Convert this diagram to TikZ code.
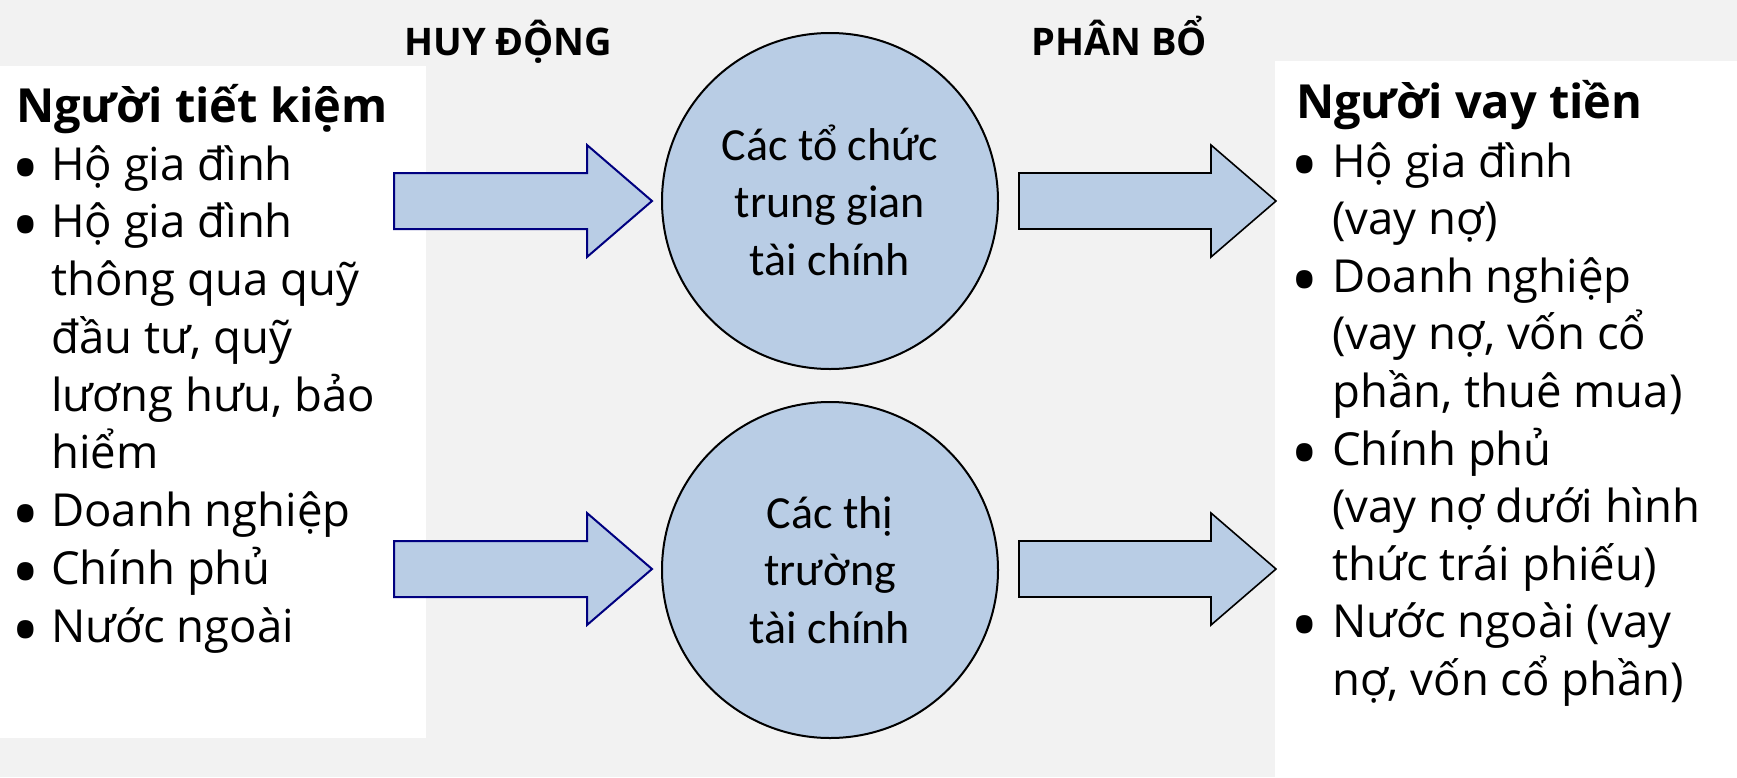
\documentclass[tikz,border=0pt]{standalone}
\usepackage{fontspec}
\setmainfont{Open Sans}
\newfontfamily\calfont{Carlito}
\definecolor{bggray}{HTML}{F2F2F2}
\definecolor{bluefill}{HTML}{B9CDE5}
\definecolor{navyline}{HTML}{000080}
\newcommand{\bdot}{\smash{•}}
\begin{document}
\begin{tikzpicture}[x=1pt,y=-1pt,
  body/.style={anchor=base west,inner sep=0pt,font=\fontsize{45.5}{55}\selectfont},
  bul/.style={anchor=base west,inner sep=0pt,font=\fontsize{76}{76}\selectfont},
  title/.style={anchor=base west,inner sep=0pt,font=\fontsize{47}{55}\selectfont\bfseries},
  head/.style={anchor=base west,inner sep=0pt,font=\fontsize{38}{45}\selectfont\bfseries},
  ctext/.style={anchor=base,inner sep=0pt,font=\calfont\fontsize{46}{55}\selectfont},
  blob/.style={circle,draw=black,line width=2pt,fill=bluefill,minimum size=336pt,inner sep=0pt},
  barrowL/.style={draw=navyline,line width=2pt,fill=bluefill,line join=miter},
  barrowR/.style={draw=black,line width=1.6pt,fill=bluefill,line join=miter}]
\useasboundingbox (0,0) rectangle (1737,777);
\fill[bggray] (0,0) rectangle (1737,777);
% white panels
\fill[white] (0,66) rectangle (426,738);
\fill[white] (1275,61) rectangle (1737,777);
% headers
\node[head] (h1) at (404,55) {HUY ĐỘNG};
\node[head] (h2) at (1031,55) {PHÂN BỔ};
% block arrows
\draw[barrowL] (394,173) -- (587,173) -- (587,145) -- (652,201) -- (587,257) -- (587,229) -- (394,229) -- cycle;
\draw[barrowL] (394,541) -- (587,541) -- (587,513) -- (652,569) -- (587,625) -- (587,597) -- (394,597) -- cycle;
\draw[barrowR] (1019,173) -- (1211,173) -- (1211,145) -- (1276,201) -- (1211,257) -- (1211,229) -- (1019,229) -- cycle;
\draw[barrowR] (1019,541) -- (1211,541) -- (1211,513) -- (1276,569) -- (1211,625) -- (1211,597) -- (1019,597) -- cycle;
% circles
\node[blob] (c1) at (830,201) {};
\node[blob] (c2) at (830,570) {};
\node[ctext] (c1a) at (830,160) {Các tổ chức};
\node[ctext] (c1b) at (830,217) {trung gian};
\node[ctext] (c1c) at (830,275) {tài chính};
\node[ctext] (c2a) at (830,528) {Các thị};
\node[ctext] (c2b) at (830,585) {trường};
\node[ctext] (c2c) at (830,643) {tài chính};
% left list
\node[title] (lt) at (16,122) {Người tiết kiệm};
\node[bul] (lb0) at (11,195) {\bdot};
\node[body] (l0) at (51,180) {Hộ gia đình};
\node[bul] (lb1) at (11,252.75) {\bdot};
\node[body] (l1) at (51,237.75) {Hộ gia đình};
\node[body] (l2) at (51,295.5) {thông qua quỹ};
\node[body] (l3) at (51,353.25) {đầu tư, quỹ};
\node[body] (l4) at (51,411) {lương hưu, bảo};
\node[body] (l5) at (51,468.75) {hiểm};
\node[bul] (lb6) at (11,541.5) {\bdot};
\node[body] (l6) at (51,526.5) {Doanh nghiệp};
\node[bul] (lb7) at (11,599.25) {\bdot};
\node[body] (l7) at (51,584.25) {Chính phủ};
\node[bul] (lb8) at (11,657) {\bdot};
\node[body] (l8) at (51,642) {Nước ngoài};
% right list
\node[title] (rt) at (1296,118) {Người vay tiền};
\node[bul] (rb0) at (1290,192) {\bdot};
\node[body] (r0) at (1332,177) {Hộ gia đình};
\node[body] (r1) at (1332,234.6) {(vay nợ)};
\node[bul] (rb2) at (1290,307.2) {\bdot};
\node[body] (r2) at (1332,292.2) {Doanh nghiệp};
\node[body] (r3) at (1332,349.8) {(vay nợ, vốn cổ};
\node[body] (r4) at (1332,407.4) {phần, thuê mua)};
\node[bul] (rb5) at (1290,480) {\bdot};
\node[body] (r5) at (1332,465) {Chính phủ};
\node[body] (r6) at (1332,522.6) {(vay nợ dưới hình};
\node[body] (r7) at (1332,580.2) {thức trái phiếu)};
\node[bul] (rb8) at (1290,652.8) {\bdot};
\node[body] (r8) at (1332,637.8) {Nước ngoài (vay};
\node[body] (r9) at (1332,695.4) {nợ, vốn cổ phần)};
\end{tikzpicture}
\end{document}
